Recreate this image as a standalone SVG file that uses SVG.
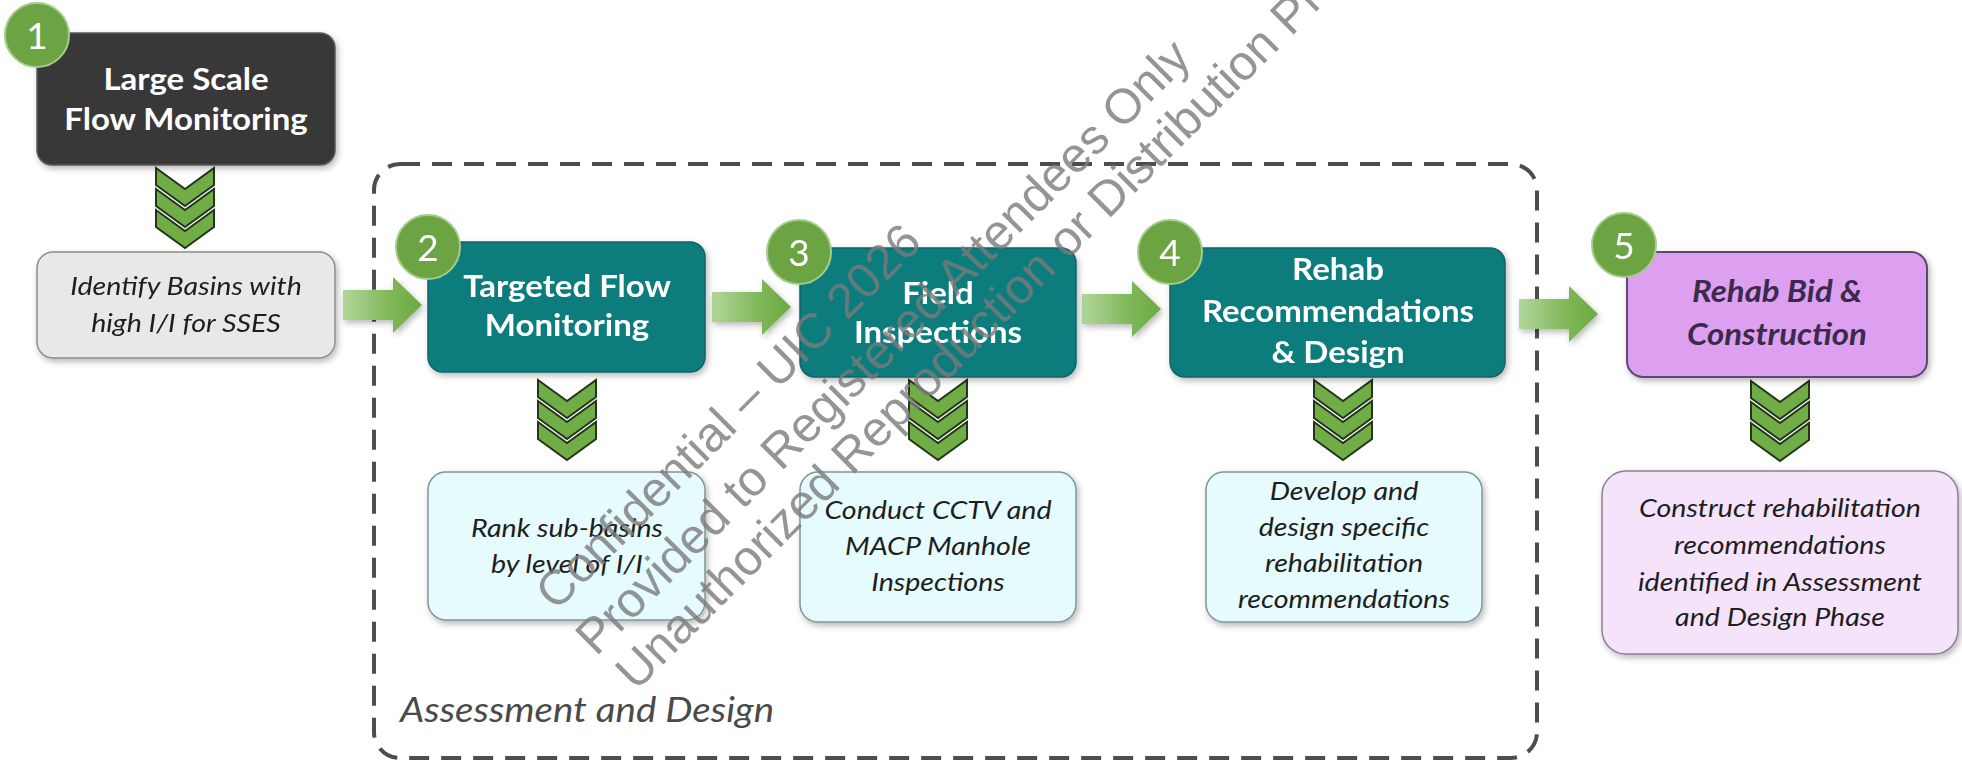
<svg xmlns="http://www.w3.org/2000/svg" width="1962" height="764" viewBox="0 0 1962 764">
<style>
.t{font-family:Lato,"Open Sans","Liberation Sans",sans-serif;font-weight:700;font-size:30px;fill:#fff;text-anchor:middle}
.d{font-family:Lato,"Open Sans","Liberation Sans",sans-serif;font-style:italic;font-size:26px;fill:#1e1e1e;text-anchor:middle}
.n{font-family:Lato,"Open Sans","Liberation Sans",sans-serif;font-size:37px;fill:#fff;text-anchor:middle}
.num{fill:#6ca443;stroke:#a3cd8a;stroke-width:2}
.teal{fill:#0c7b7d;stroke:#0a6467;stroke-width:1.5}
.lc{fill:#e6fbfd;stroke:#7f9697;stroke-width:1.5}
.chev polygon{fill:#70ad47;stroke:#24361a;stroke-width:2;stroke-linejoin:miter}
.arr{fill:url(#ag)}
.wm{font-family:"Liberation Sans",Arial,sans-serif;font-size:49px;fill:#7a7a7a;fill-opacity:0.8}
</style>
<defs>
<linearGradient id="ag" x1="0" y1="0" x2="1" y2="0">
<stop offset="0" stop-color="#b2d79a"/>
<stop offset="0.6" stop-color="#7fb759"/>
<stop offset="1" stop-color="#6aab3f"/>
</linearGradient>
<filter id="sh" x="-10%" y="-10%" width="125%" height="135%">
<feDropShadow dx="2" dy="3" stdDeviation="3" flood-color="#000" flood-opacity="0.28"/>
</filter>
<g id="chev" class="chev">
<polygon points="-29,0 0,21 29,0 29,17 0,38 -29,17"/>
<polygon points="-29,21 0,42 29,21 29,38 0,59 -29,38"/>
<polygon points="-29,42 0,63 29,42 29,59 0,80 -29,59"/>
</g>
<polygon id="arrow" points="0,-15 50,-15 50,-28 79,0 50,28 50,15 0,15"/>
</defs>
<rect width="1962" height="764" fill="#fff"/>

<g id="assessment-group">
<rect x="374" y="164" width="1163" height="594" rx="26" fill="none" stroke="#4d4d4d" stroke-width="4" stroke-dasharray="20 12"/>
<text transform="translate(400,722) scale(1.1,1)" style="font-family:Lato,'Open Sans','Liberation Sans',sans-serif;font-style:italic;font-size:35px;fill:#4a4a4a">Assessment and Design</text>
</g>

<g id="connectors">
<use href="#chev" x="185" y="168"/>
<use href="#chev" x="567" y="380"/>
<use href="#chev" x="938" y="380"/>
<use href="#chev" x="1343" y="380"/>
<use href="#chev" x="1780" y="381"/>
<g filter="url(#sh)">
<use href="#arrow" class="arr" x="343" y="305"/>
<use href="#arrow" class="arr" x="712" y="307"/>
<use href="#arrow" class="arr" x="1082" y="309"/>
<use href="#arrow" class="arr" x="1519" y="314"/>
</g>
</g>

<g id="node1">
<rect x="37" y="33" width="298" height="132" rx="15" fill="#373737" stroke="#5a5a5a" stroke-width="1.5" filter="url(#sh)"/>
<g transform="translate(186,0) scale(1.1,1)">
<text class="t" x="0" y="90">Large Scale</text>
<text class="t" x="0" y="130">Flow Monitoring</text>
</g>
<circle class="num" cx="37" cy="35" r="32"/>
<text class="n" x="37" y="49">1</text>
</g>

<g id="node1b">
<rect x="37" y="252" width="298" height="106" rx="16" fill="#e8e8e6" stroke="#8c8c8c" stroke-width="1.5" filter="url(#sh)"/>
<g transform="translate(186,0) scale(1.1,1)">
<text class="d" x="0" y="295">Identify Basins with</text>
<text class="d" x="0" y="332">high I/I for SSES</text>
</g>
</g>

<g id="node2">
<rect class="teal" x="428" y="242" width="277" height="130" rx="15" filter="url(#sh)"/>
<g transform="translate(567,0) scale(1.1,1)">
<text class="t" x="0" y="297">Targeted Flow</text>
<text class="t" x="0" y="336">Monitoring</text>
</g>
<circle class="num" cx="428" cy="247" r="32"/>
<text class="n" x="428" y="261">2</text>
</g>

<g id="node2b">
<rect class="lc" x="428" y="472" width="277" height="148" rx="18" filter="url(#sh)"/>
<g transform="translate(567,0) scale(1.1,1)">
<text class="d" x="0" y="537">Rank sub-basins</text>
<text class="d" x="0" y="573">by level of I/I</text>
</g>
</g>

<g id="node3">
<rect class="teal" x="800" y="248" width="276" height="129" rx="15" filter="url(#sh)"/>
<g transform="translate(938,0) scale(1.1,1)">
<text class="t" x="0" y="304">Field</text>
<text class="t" x="0" y="343">Inspections</text>
</g>
<circle class="num" cx="799" cy="252" r="32"/>
<text class="n" x="799" y="266">3</text>
</g>

<g id="node3b">
<rect class="lc" x="800" y="472" width="276" height="150" rx="18" filter="url(#sh)"/>
<g transform="translate(938,0) scale(1.1,1)">
<text class="d" x="0" y="519">Conduct CCTV and</text>
<text class="d" x="0" y="555">MACP Manhole</text>
<text class="d" x="0" y="591">Inspections</text>
</g>
</g>

<g id="node4">
<rect class="teal" x="1170" y="248" width="335" height="129" rx="15" filter="url(#sh)"/>
<g transform="translate(1338,0) scale(1.1,1)">
<text class="t" x="0" y="280">Rehab</text>
<text class="t" x="0" y="322">Recommendations</text>
<text class="t" x="0" y="363">&amp; Design</text>
</g>
<circle class="num" cx="1170" cy="252" r="32"/>
<text class="n" x="1170" y="266">4</text>
</g>

<g id="node4b">
<rect class="lc" x="1206" y="472" width="276" height="150" rx="18" filter="url(#sh)"/>
<g transform="translate(1344,0) scale(1.1,1)">
<text class="d" x="0" y="500">Develop and</text>
<text class="d" x="0" y="536">design specific</text>
<text class="d" x="0" y="572">rehabilitation</text>
<text class="d" x="0" y="608">recommendations</text>
</g>
</g>

<g id="node5">
<rect x="1627" y="252" width="300" height="125" rx="16" fill="#dd9ff0" stroke="#5f4a73" stroke-width="2" filter="url(#sh)"/>
<g transform="translate(1777,0) scale(1.1,1)">
<text class="t" x="0" y="302" style="font-style:italic;fill:#3b2b4b">Rehab Bid &amp;</text>
<text class="t" x="0" y="345" style="font-style:italic;fill:#3b2b4b">Construction</text>
</g>
<circle class="num" cx="1624" cy="245" r="32"/>
<text class="n" x="1624" y="259">5</text>
</g>

<g id="node5b">
<rect x="1602" y="471" width="356" height="183" rx="24" fill="#f4e3fa" stroke="#8d7d95" stroke-width="1.5" filter="url(#sh)"/>
<g transform="translate(1780,0) scale(1.1,1)">
<text class="d" x="0" y="517">Construct rehabilitation</text>
<text class="d" x="0" y="554">recommendations</text>
<text class="d" x="0" y="591">identified in Assessment</text>
<text class="d" x="0" y="626">and Design Phase</text>
</g>
</g>

<g id="watermark">
<text class="wm" transform="translate(556,612) rotate(-45)">Confidential – UIC 2026</text>
<text class="wm" transform="translate(596,657) rotate(-45)">Provided to Registered Attendees Only</text>
<text class="wm" transform="translate(636,692) rotate(-45)">Unauthorized Reproduction or Distribution Prohibited</text>
</g>
</svg>
